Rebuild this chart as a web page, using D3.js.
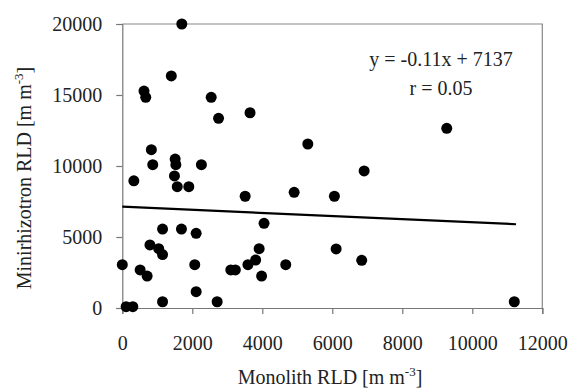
<!DOCTYPE html>
<html>
<head>
  <style>
    body { margin: 0; background: #fff; }
    svg text { font-family: "Liberation Serif", "Times New Roman", serif; fill: #222; }
  </style>
</head>
<body>
  <svg id="chart" width="573" height="390"></svg>
  <script src="https://d3js.org/d3.v7.min.js"></script>
  <script>
    // monolith RLD (x) vs minirhizotron RLD (y)
    const monolith = [1700, 1400, 620, 670, 2540, 2750, 3650, 5300, 830, 870, 1510, 1530, 2260,
      330, 1490, 1570, 1900, 3510, 4910, 6060, 4050, 1150, 1690, 2110, 790, 1040, 1150, 3910, 6110,
      0, 510, 710, 2070, 3100, 3230, 3590, 3810, 3980, 4670, 2110, 1150, 2710, 110, 300,
      9270, 6910, 6840, 11200];
    const minirhizotron = [20000, 16340, 15280, 14840, 14840, 13360, 13750, 11550, 11150, 10090, 10490, 10090, 10090,
      8960, 9300, 8540, 8540, 7870, 8150, 7870, 5960, 5560, 5560, 5260, 4440, 4180, 3760, 4180, 4160,
      3050, 2680, 2250, 3050, 2680, 2680, 3050, 3380, 2250, 3050, 1150, 440, 440, 90, 90,
      12650, 9650, 3360, 440];
    const xTicks = [0, 2000, 4000, 6000, 8000, 10000, 12000];
    const yTicks = [0, 5000, 10000, 15000, 20000];
    const slope = -0.11, intercept = 7137;

    const svg = d3.select('#chart');
    const x = d3.scaleLinear().domain([0, 12000]).range([122.3, 542.3]);
    const y = d3.scaleLinear().domain([0, 20000]).range([308, 24]);

    // frame (top and right)
    svg.append('path')
      .attr('d', `M${x(0)},${y(20000)}H${x(12000)}V${y(0)}`)
      .attr('fill', 'none').attr('stroke', '#888').attr('stroke-width', 1.2);

    const xAxis = svg.append('g')
      .attr('transform', `translate(0,${y(0)})`)
      .call(d3.axisBottom(x).tickValues(xTicks).tickSizeOuter(0).tickSize(6).tickPadding(22).tickFormat(d3.format('d')));
    const yAxis = svg.append('g')
      .attr('transform', `translate(${x(0)},0)`)
      .call(d3.axisLeft(y).tickValues(yTicks).tickSizeOuter(0).tickSize(6).tickPadding(14).tickFormat(d3.format('d')));
    [xAxis, yAxis].forEach(a => {
      a.select('.domain').attr('stroke', '#777').attr('stroke-width', 1.2);
      a.selectAll('.tick line').attr('stroke', '#777').attr('stroke-width', 1.2);
      a.selectAll('.tick text').style('font-family', '"Liberation Serif", serif').style('font-size', '20px').attr('fill', '#222');
    });

    // regression line
    svg.append('line')
      .attr('x1', x(0)).attr('y1', y(intercept))
      .attr('x2', x(11250)).attr('y2', y(slope * 11250 + intercept))
      .attr('stroke', '#000').attr('stroke-width', 2.2);

    // points
    svg.append('g').selectAll('circle')
      .data(monolith.map((d, i) => [d, minirhizotron[i]]))
      .join('circle')
      .attr('cx', d => x(d[0]))
      .attr('cy', d => y(d[1]))
      .attr('r', 5.5)
      .attr('fill', '#000');

    // equation
    svg.append('text').attr('x', 441).attr('y', 66).attr('text-anchor', 'middle')
      .style('font-size', '20px').text('y = -0.11x + 7137');
    svg.append('text').attr('x', 441).attr('y', 95).attr('text-anchor', 'middle')
      .style('font-size', '20px').text('r = 0.05');

    // axis titles
    const xt = svg.append('text').attr('x', 330).attr('y', 384).attr('text-anchor', 'middle').style('font-size', '20px');
    xt.append('tspan').text('Monolith RLD [m m');
    xt.append('tspan').attr('dy', -8).style('font-size', '13px').text('-3');
    xt.append('tspan').attr('dy', 8).text(']');

    const yt = svg.append('text').attr('transform', 'translate(31,178) rotate(-90)')
      .attr('text-anchor', 'middle').style('font-size', '20px');
    yt.append('tspan').text('Minirhizotron RLD [m m');
    yt.append('tspan').attr('dy', -8).style('font-size', '13px').text('-3');
    yt.append('tspan').attr('dy', 8).text(']');
  </script>
</body>
</html>
